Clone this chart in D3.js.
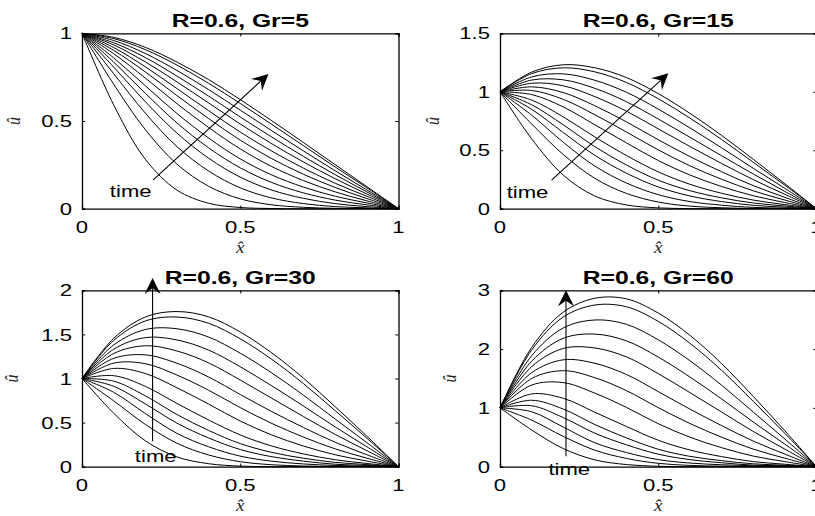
<!DOCTYPE html>
<html><head><meta charset="utf-8">
<script src="https://cdn.jsdelivr.net/npm/d3@7"></script>
<style>body{margin:0;background:#fff}svg{display:block}</style>
</head><body><svg id="c" width="815" height="516"></svg>
<script>
// ---------- data ----------
const xGrid = [0,0.1,0.2,0.3,0.4,0.5,0.6,0.7,0.8,0.9,1];
const titles = ["R=0.6, Gr=5","R=0.6, Gr=15","R=0.6, Gr=30","R=0.6, Gr=60"];
const xTicks = [0,0.5,1];
const xTickLabels = ["0","0.5","1"];
const yTicksGr5 = [0,0.5,1];
const yTicksGr15 = [0,0.5,1,1.5];
const yTicksGr30 = [0,0.5,1,1.5,2];
const yTicksGr60 = [0,1,2,3];
const yMaxes = [1,1.5,2,3];

const curvesGr5 = [
 [1,.592,.282,.106,.031,.007,.001,0,0,0,0],
 [1,.710,.451,.254,.128,.056,.022,.008,.002,.001,0],
 [1,.770,.545,.354,.215,.119,.061,.029,.012,.005,0],
 [1,.808,.610,.431,.288,.180,.106,.059,.029,.012,0],
 [1,.836,.658,.489,.347,.233,.149,.090,.049,.022,0],
 [1,.860,.701,.543,.403,.284,.192,.123,.071,.033,0],
 [1,.884,.745,.599,.463,.341,.240,.160,.096,.045,0],
 [1,.903,.780,.645,.514,.391,.285,.196,.121,.058,0],
 [1,.919,.809,.685,.559,.437,.328,.231,.145,.071,0],
 [1,.934,.837,.723,.603,.483,.370,.266,.171,.084,0],
 [1,.946,.862,.756,.642,.523,.408,.298,.194,.096,0],
 [1,.959,.885,.788,.679,.562,.444,.329,.216,.107,0],
 [1,.970,.907,.819,.715,.600,.480,.359,.238,.119,0],
 [1,.977,.920,.836,.736,.622,.501,.377,.251,.126,0]
];
const curvesGr15 = [
 [1,.598,.287,.108,.032,.007,.001,0,0,0,0],
 [1,.725,.463,.259,.130,.057,.022,.008,.002,.001,0],
 [1,.800,.568,.364,.219,.120,.061,.030,.011,.005,0],
 [1,.850,.651,.456,.303,.186,.109,.061,.029,.013,0],
 [1,.889,.717,.530,.373,.244,.154,.093,.049,.023,0],
 [1,.929,.785,.613,.454,.315,.209,.132,.074,.035,0],
 [1,.976,.870,.717,.562,.412,.288,.190,.111,.053,0],
 [1,1.011,.935,.803,.655,.503,.367,.252,.153,.074,0],
 [1,1.042,.993,.880,.742,.590,.446,.316,.198,.097,0],
 [1,1.073,1.051,.958,.833,.683,.532,.387,.249,.123,0],
 [1,1.100,1.102,1.029,.914,.767,.611,.453,.297,.148,0],
 [1,1.127,1.153,1.098,.995,.852,.691,.521,.346,.174,0],
 [1,1.155,1.205,1.170,1.079,.940,.775,.592,.397,.201,0],
 [1,1.168,1.231,1.205,1.121,.984,.816,.627,.423,.214,0]
];
const curvesGr30 = [
 [1,.607,.294,.111,.034,.007,.001,.001,0,0,0],
 [1,.747,.480,.266,.133,.057,.022,.008,.003,.001,0],
 [1,.844,.603,.378,.226,.120,.062,.031,.014,.006,0],
 [1,.912,.712,.494,.326,.195,.113,.063,.028,.014,0],
 [1,.970,.804,.592,.411,.262,.162,.096,.049,.024,0],
 [1,1.032,.911,.717,.530,.360,.234,.145,.079,.037,0],
 [1,1.114,1.057,.895,.710,.518,.359,.234,.135,.064,0],
 [1,1.174,1.168,1.039,.867,.670,.490,.335,.202,.097,0],
 [1,1.228,1.268,1.173,1.017,.819,.624,.444,.277,.136,0],
 [1,1.283,1.371,1.312,1.177,.982,.775,.568,.366,.182,0],
 [1,1.332,1.463,1.437,1.322,1.133,.916,.687,.451,.226,0],
 [1,1.380,1.555,1.564,1.470,1.287,1.062,.810,.540,.273,0],
 [1,1.431,1.652,1.697,1.626,1.450,1.216,.941,.635,.323,0],
 [1,1.455,1.697,1.759,1.699,1.527,1.289,1.003,.680,.346,0]
];
const curvesGr60 = [
 [1,.625,.308,.116,.036,.007,.001,.001,0,0,0],
 [1,.792,.515,.280,.140,.057,.022,.009,.004,.002,0],
 [1,.934,.674,.406,.240,.121,.062,.033,.015,.007,0],
 [1,1.037,.835,.569,.371,.213,.120,.067,.027,.015,0],
 [1,1.130,.980,.716,.489,.297,.176,.103,.049,.025,0],
 [1,1.238,1.163,.925,.683,.450,.284,.172,.087,.042,0],
 [1,1.389,1.430,1.250,1.007,.731,.502,.324,.181,.087,0],
 [1,1.500,1.633,1.513,1.292,1.004,.735,.502,.299,.145,0],
 [1,1.599,1.818,1.758,1.567,1.277,.980,.699,.436,.214,0],
 [1,1.702,2.011,2.019,1.866,1.582,1.260,.931,.600,.299,0],
 [1,1.794,2.184,2.255,2.139,1.865,1.526,1.153,.760,.383,0],
 [1,1.887,2.360,2.495,2.420,2.158,1.803,1.387,.930,.471,0],
 [1,1.984,2.546,2.750,2.719,2.471,2.100,1.639,1.112,.567,0],
 [1,2.028,2.629,2.865,2.854,2.613,2.234,1.754,1.196,.611,0]
];
// annotation arrows (data units): start and tip
const arrowStarts = [[0.225,0.164],[0.163,0.245],[0.223,0.288],[0.2085,0.177]];
const arrowTips   = [[0.589,0.768],[0.532,1.158],[0.223,2.14],[0.2085,3.0]];
const timeLabelAt = [[0.088,0.064],[0.021,0.089],[0.167,0.053],[0.153,-0.146]];
const timeLabel = "time";

// ---------- layout ----------
const SX = 1.3; // horizontal stretch of glyphs seen in the reference
const FONT = "'Liberation Sans', Arial, Helvetica, sans-serif";
const MATH = "'Liberation Serif', 'Times New Roman', serif";
const panels = [
  {x0:82,  x1:398.5, y0:33.3,  y1:208.7, ylabX:14},
  {x0:500, x1:816.5, y0:33.3,  y1:208.7, ylabX:433},
  {x0:82,  x1:398.5, y0:290.3, y1:466.7, ylabX:12},
  {x0:500, x1:816.5, y0:290.3, y1:466.7, ylabX:450}
];
const allCurves = [curvesGr5, curvesGr15, curvesGr30, curvesGr60];
const allYTicks = [yTicksGr5, yTicksGr15, yTicksGr30, yTicksGr60];

const svg = d3.select("#c");
svg.append("rect").attr("width",815).attr("height",516).attr("fill","#fff");

function stext(g, x, y, str, o) {
  return g.append("text")
    .attr("transform", `translate(${x},${y}) scale(${o.sx||SX},1)`)
    .attr("text-anchor", o.anchor || "start")
    .attr("font-family", o.family || FONT)
    .attr("font-size", o.size || 17)
    .attr("font-weight", o.weight || "normal")
    .attr("font-style", o.style || "normal")
    .attr("fill", o.fill || "#000")
    .text(str);
}

panels.forEach((p, i) => {
  const g = svg.append("g");
  const sx = d3.scaleLinear().domain([0,1]).range([p.x0, p.x1]);
  const sy = d3.scaleLinear().domain([0, yMaxes[i]]).range([p.y1, p.y0]);

  // curves
  const line = d3.line()
    .x((d, j) => sx(xGrid[j]))
    .y(d => sy(d))
    .curve(d3.curveCatmullRom.alpha(0.5));
  g.selectAll("path.curve").data(allCurves[i]).enter().append("path")
    .attr("class","curve")
    .attr("d", line)
    .attr("fill","none").attr("stroke","#000").attr("stroke-width",1);

  // axes (box with inward ticks on all sides)
  const tl = 3.2;
  const axB = d3.axisBottom(sx).tickValues(xTicks).tickSize(-tl).tickFormat("");
  const axT = d3.axisTop(sx).tickValues(xTicks).tickSize(-tl).tickFormat("");
  const axL = d3.axisLeft(sy).tickValues(allYTicks[i]).tickSize(-tl).tickFormat("");
  const axR = d3.axisRight(sy).tickValues(allYTicks[i]).tickSize(-tl).tickFormat("");
  [[axB, `translate(0,${p.y1})`],[axT, `translate(0,${p.y0})`],
   [axL, `translate(${p.x0},0)`],[axR, `translate(${p.x1},0)`]].forEach(([ax, tr]) => {
    const a = g.append("g").attr("transform", tr).call(ax);
    a.select(".domain").attr("stroke","#000").attr("stroke-width",1.3);
    a.selectAll(".tick line").attr("stroke","#000").attr("stroke-width",1);
  });

  // tick labels
  xTicks.forEach((t, j) => stext(g, sx(t), p.y1 + 24.5, xTickLabels[j], {anchor:"middle"}));
  allYTicks[i].forEach(t => stext(g, p.x0 - 10, sy(t) + 6.1, String(t), {anchor:"end"}));

  // title
  stext(g, (p.x0 + p.x1) / 2, p.y0 - 6.3, titles[i], {anchor:"middle", weight:"bold", size:19});

  // axis labels
  stext(g, (p.x0 + p.x1) / 2, p.y1 + 44, "x\u0302", {anchor:"middle", family:MATH, style:"italic", size:16, fill:"#222", sx:1.2});
  g.append("text")
    .attr("transform", `translate(${p.ylabX + 6},${(p.y0 + p.y1) / 2}) rotate(-90) scale(1,1.2)`)
    .attr("text-anchor","middle")
    .attr("font-family", MATH).attr("font-style","italic").attr("font-size",16).attr("fill","#222")
    .text("\u00fb");

  // time arrow
  const X0 = sx(arrowStarts[i][0]), Y0 = sy(arrowStarts[i][1]);
  const X1 = sx(arrowTips[i][0]),   Y1 = sy(arrowTips[i][1]);
  const ang = Math.atan2(Y1 - Y0, X1 - X0);
  const L = 16, W = 16, notch = 0.65 * L;
  g.append("line")
    .attr("x1", X0).attr("y1", Y0)
    .attr("x2", X1 - notch * Math.cos(ang)).attr("y2", Y1 - notch * Math.sin(ang))
    .attr("stroke","#000").attr("stroke-width",1.1);
  g.append("path")
    .attr("d", `M0,0 L${-L},${W/2} L${-notch},0 L${-L},${-W/2} Z`)
    .attr("transform", `translate(${X1},${Y1}) rotate(${ang * 180 / Math.PI})`)
    .attr("fill","#000");

  stext(g, sx(timeLabelAt[i][0]), sy(timeLabelAt[i][1]), timeLabel, {size:17});
});
</script></body></html>
